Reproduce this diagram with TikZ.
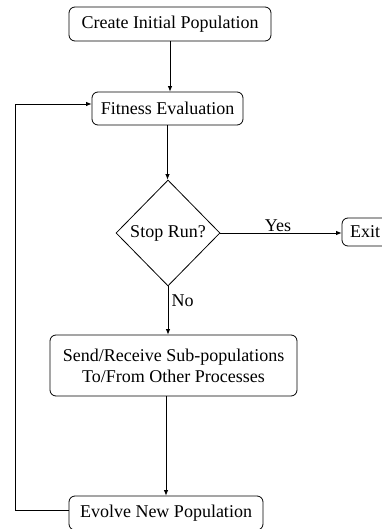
\documentclass[tikz,border=0pt]{standalone}
\usepackage{fontspec}
\setmainfont{Liberation Serif}
\usepackage{tikz}
\usetikzlibrary{shapes.geometric,arrows.meta}

\begin{document}
\begin{tikzpicture}[x=1pt,y=-1pt,
  box/.style={draw, rounded corners=6pt, line width=0.8pt, inner sep=0pt, align=center,
    font=\fontsize{18}{21}\selectfont},
  decide/.style={draw, diamond, line width=0.8pt, inner sep=0pt, minimum width=104pt,
    minimum height=106pt, font=\fontsize{18}{21}\selectfont},
  arr/.style={line width=0.8pt, -{Latex[length=5.5pt,width=4.5pt]}},
  lbl/.style={font=\fontsize{18}{21}\selectfont}]
\useasboundingbox (0,0) rectangle (381,529);
\node[box, minimum width=202pt, minimum height=34pt] (init) at (170,24) {Create Initial Population};
\node[box, minimum width=151pt, minimum height=33pt] (fit) at (167.5,108.5) {Fitness Evaluation};
\node[decide] (stop) at (168,233) {Stop Run?};
\node[box, minimum width=46pt, minimum height=28pt] (exit) at (365,232) {Exit};
\node[box, minimum width=247pt, minimum height=61pt] (send) at (173.5,365.5) {Send/Receive Sub-populations\\ To/From Other Processes};
\node[box, minimum width=194pt, minimum height=34pt] (evolve) at (166,513) {Evolve New Population};
\coordinate (back) at (15,300);
% connectors
\draw[arr] (init.south) -- (init.south |- fit.north);
\draw[arr] (fit.south) -- (fit.south |- stop.north);
\draw[arr] (stop.east) -- node[lbl, above, yshift=-2pt, xshift=-3pt] {Yes} (stop.east -| exit.west);
\draw[arr] (stop.south) -- node[lbl, right, pos=0.3] {No} (stop.south |- send.north);
\draw[arr] (evolve.north |- send.south) -- (evolve.north);
\draw[arr] ([yshift=3pt]evolve.west) -- ([yshift=3pt]evolve.west -| back) |- ([yshift=4.5pt]fit.west);
\end{tikzpicture}
\end{document}
